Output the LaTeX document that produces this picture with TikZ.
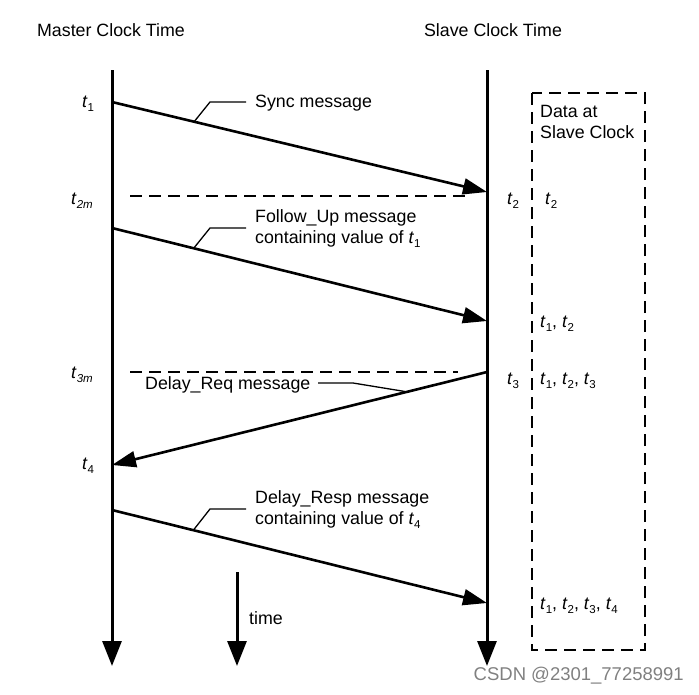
\documentclass[tikz,border=0pt]{standalone}
\usepackage{fontspec}
\setmainfont{Liberation Sans}
\usetikzlibrary{arrows.meta}
\newcommand\tv[1]{\textit{t}\raisebox{-0.45ex}{\fontsize{11.5}{12}\selectfont #1}}
\begin{document}
\begin{tikzpicture}[x=1pt,y=-1pt,
  every node/.style={inner sep=0pt,font=\fontsize{17.8}{21}\selectfont},
  timeline/.style={line width=3pt,-{Triangle[length=25pt,width=19pt]}},
  msg/.style={line width=2.6pt,-{Triangle[length=24pt,width=16pt]}},
  leader/.style={line width=1.3pt},
  dashline/.style={line width=1.4pt,dash pattern=on 12pt off 7pt}]
\useasboundingbox (0,0) rectangle (699,694);
% titles
\node (mt) at (111,30) {Master Clock Time};
\node (st) at (493,30) {Slave Clock Time};
% timelines
\coordinate (mtop) at (112,70); \coordinate (mbot) at (112,666);
\coordinate (stop) at (487,70); \coordinate (sbot) at (487,666);
\draw[timeline] (mtop) -- (mbot);
\draw[timeline] (stop) -- (sbot);
\coordinate (ttop) at (237,572); \coordinate (tbot) at (237,666);
\draw[timeline] (ttop) -- (tbot);
\node[anchor=west] (time) at (249,618) {time};
% Sync
\coordinate (m1) at (112,102); \coordinate (s2) at (487,192);
\draw[msg] (m1) -- (s2);
\node (t1) at (88,104) {\tv{1}};
\node[anchor=west] (sync) at (255,103) {Sync message};
\coordinate (syncl) at (193.5,122.5);
\draw[leader] (syncl) -- (210,102) -- (246,102);
% t2m dashed
\coordinate (d2a) at (130,196); \coordinate (d2b) at (470,196);
\draw[dashline] (d2a) -- (d2b);
\node (t2m) at (82,201) {\tv{\textit{2m}}};
\node (t2) at (513,201) {\tv{2}};
% Follow_Up
\coordinate (m2) at (112,228); \coordinate (s3) at (487,321);
\draw[msg] (m2) -- (s3);
\node[anchor=north west,align=left] (fu) at (255,209) {Follow\_Up message\\containing value of \tv{1}};
\draw[leader] (193.5,248.5) -- (210,228) -- (246,228);
% t3m dashed
\coordinate (d3a) at (130,372); \coordinate (d3b) at (458,372);
\draw[dashline] (d3a) -- (d3b);
\node (t3m) at (82,375) {\tv{\textit{3m}}};
\node (t3) at (513,381) {\tv{3}};
% Delay_Req
\coordinate (s4) at (487,372); \coordinate (m4) at (112,465);
\draw[msg] (s4) -- (m4);
\node[anchor=west] (dr) at (145,385) {Delay\_Req message};
\draw[leader] (318,383) -- (353,383) -- (405,391.5);
\node (t4) at (88,466) {\tv{4}};
% Delay_Resp
\coordinate (m5) at (112,510); \coordinate (s5) at (487,603);
\draw[msg] (m5) -- (s5);
\node[anchor=north west,align=left] (dresp) at (255,490) {Delay\_Resp message\\containing value of \tv{4}};
\draw[leader] (193.5,530) -- (210,509) -- (246,509);
% data box
\draw[dashline] (532,93) rectangle (645,650);
\node[anchor=north west,align=left] (data) at (540,105) {Data at\\Slave Clock};
\node[anchor=west] (d1) at (545,201) {\tv{2}};
\node[anchor=west] (d2) at (540,324) {\tv{1}, \tv{2}};
\node[anchor=west] (d3) at (540,381) {\tv{1}, \tv{2}, \tv{3}};
\node[anchor=west] (d4) at (540,606) {\tv{1}, \tv{2}, \tv{3}, \tv{4}};
% watermark
\node[anchor=east,text=black!50,font=\fontsize{18.5}{20}\selectfont] (wm) at (684,676) {CSDN @2301\_77258991};
\end{tikzpicture}
\end{document}
